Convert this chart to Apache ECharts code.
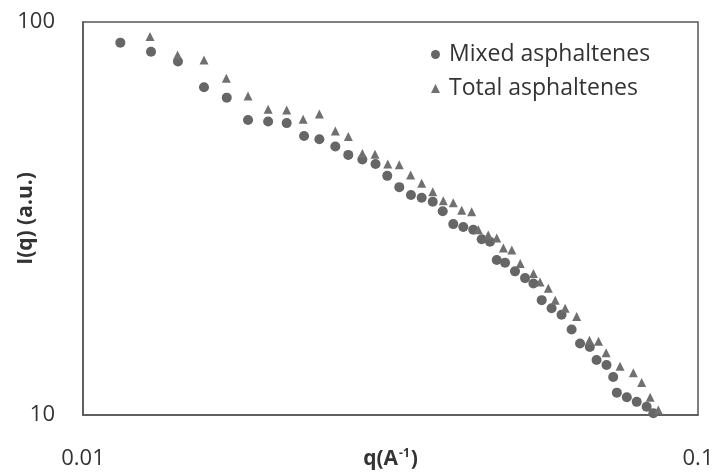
<!DOCTYPE html>
<html>
<head>
<meta charset="utf-8">
<script src="https://cdn.jsdelivr.net/npm/echarts@6/dist/echarts.min.js"></script>
<style>
  html, body { margin: 0; padding: 0; background: #fff; }
  #chart { width: 716px; height: 474px; }
</style>
</head>
<body>
<div id="chart"></div>
<script>
// scattering vector q (1/A) and intensity I(q) (a.u.)
var mixedQ = [0.0115, 0.0129, 0.01427, 0.01573, 0.01713, 0.01855, 0.0200, 0.02144, 0.02288, 0.02423,
  0.02572, 0.0270, 0.02846, 0.0299, 0.03124, 0.03268, 0.03414, 0.03554, 0.03704, 0.03845,
  0.0400, 0.04153, 0.04311, 0.04449, 0.0459, 0.04707, 0.04856, 0.0504, 0.05233, 0.0540,
  0.0557, 0.0578, 0.0600, 0.0623, 0.0643, 0.0667, 0.0684, 0.0710, 0.0728, 0.0738,
  0.0766, 0.0795, 0.0825, 0.0846];
var mixedI = [88.6, 84.0, 79.3, 68.2, 64.2, 56.3, 55.8, 55.3, 51.3, 50.3,
  48.2, 45.9, 44.7, 43.5, 40.6, 38.0, 36.3, 35.7, 34.9, 33.0,
  30.6, 30.1, 29.6, 28.0, 27.6, 24.8, 24.4, 23.2, 22.3, 21.6,
  19.6, 18.7, 18.0, 16.5, 15.2, 14.9, 13.8, 13.4, 12.5, 11.4,
  11.1, 10.8, 10.5, 10.1];

var totalQ = [0.01285, 0.01425, 0.01573, 0.0171, 0.01855, 0.0200, 0.02144, 0.0228, 0.02423, 0.02572,
  0.0270, 0.02846, 0.02984, 0.0313, 0.03268, 0.0341, 0.03554, 0.03704, 0.03854, 0.0400,
  0.04128, 0.04286, 0.04393, 0.0456, 0.04707, 0.04825, 0.0498, 0.0514, 0.0540, 0.05535,
  0.0571, 0.0586, 0.0608, 0.0635, 0.0666, 0.0689, 0.0709, 0.0747, 0.0785, 0.0810,
  0.0836, 0.0862];
var totalI = [91.8, 82.4, 80.0, 71.9, 64.8, 60.0, 59.7, 56.6, 58.3, 52.8,
  51.1, 46.3, 46.1, 43.5, 43.3, 40.8, 38.9, 37.0, 35.1, 34.7,
  33.2, 32.9, 29.6, 28.7, 28.2, 26.6, 26.3, 24.3, 22.9, 21.8,
  21.0, 19.6, 18.7, 17.8, 15.5, 15.4, 14.4, 13.3, 12.8, 12.1,
  11.1, 10.3];

var xTicks = [0.01, 0.1];
var yTicks = [10, 100];

function pairs(xs, ys) {
  return xs.map(function (x, i) { return [x, ys[i]]; });
}

var chart = echarts.init(document.getElementById('chart'));
var font = 'Open Sans';

var option = {
  backgroundColor: '#fff',
  animation: false,
  textStyle: { fontFamily: font },
  grid: {
    left: 83, right: 18, top: 22, bottom: 59,
    outerBoundsMode: 'none',
    containLabel: false,
    show: true, borderColor: '#555', borderWidth: 1.5
  },
  legend: {
    orient: 'vertical',
    left: 426, top: 38,
    itemWidth: 9, itemHeight: 9, itemGap: 11,
    textStyle: { fontFamily: font, fontSize: 23, color: '#333', padding: [0, 0, 0, 4] },
    data: [
      { name: 'Mixed asphaltenes', icon: 'circle' },
      { name: 'Total asphaltenes', icon: 'triangle' }
    ]
  },
  xAxis: {
    type: 'log', logBase: 10,
    min: xTicks[0], max: xTicks[1],
    name: '{b|q(A}{s|-1}{b|)}',
    nameLocation: 'middle', nameGap: 33,
    nameMoveOverlap: false,
    nameTextStyle: {
      rich: {
        b: { fontFamily: font, fontSize: 21, fontWeight: 'bold', color: '#333' },
        s: { fontFamily: font, fontSize: 12, fontWeight: 'bold', color: '#333', verticalAlign: 'top', padding: [0, 1, 10, 1] }
      }
    },
    axisLine: { show: true, lineStyle: { color: '#555', width: 1.5 } },
    axisTick: { show: false },
    minorTick: { show: false },
    splitLine: { show: false },
    axisLabel: {
      margin: 33, fontSize: 22, color: '#333', fontFamily: font,
      showMinLabel: true, showMaxLabel: true,
      formatter: function (v) { return xTicks.indexOf(+v.toPrecision(3)) >= 0 ? String(+v.toPrecision(3)) : ''; }
    }
  },
  yAxis: {
    type: 'log', logBase: 10,
    min: yTicks[0], max: yTicks[1],
    name: 'I(q) (a.u.)',
    nameLocation: 'middle', nameGap: 46,
    nameMoveOverlap: false,
    nameTextStyle: { fontFamily: font, fontSize: 21, fontWeight: 'bold', color: '#333' },
    axisLine: { show: true, lineStyle: { color: '#555', width: 1.5 } },
    axisTick: { show: false },
    splitLine: { show: false },
    axisLabel: {
      margin: 28, fontSize: 22, color: '#333', fontFamily: font,
      formatter: function (v) { return yTicks.indexOf(Math.round(v)) >= 0 ? String(Math.round(v)) : ''; }
    }
  },
  series: [
    {
      name: 'Mixed asphaltenes',
      type: 'scatter',
      symbol: 'circle',
      symbolSize: 10,
      itemStyle: { color: '#666', opacity: 1 },
      data: pairs(mixedQ, mixedI)
    },
    {
      name: 'Total asphaltenes',
      type: 'scatter',
      symbol: 'triangle',
      symbolSize: 9,
      itemStyle: { color: '#707070', opacity: 1 },
      data: pairs(totalQ, totalI)
    }
  ]
};

chart.setOption(option);
</script>
</body>
</html>
